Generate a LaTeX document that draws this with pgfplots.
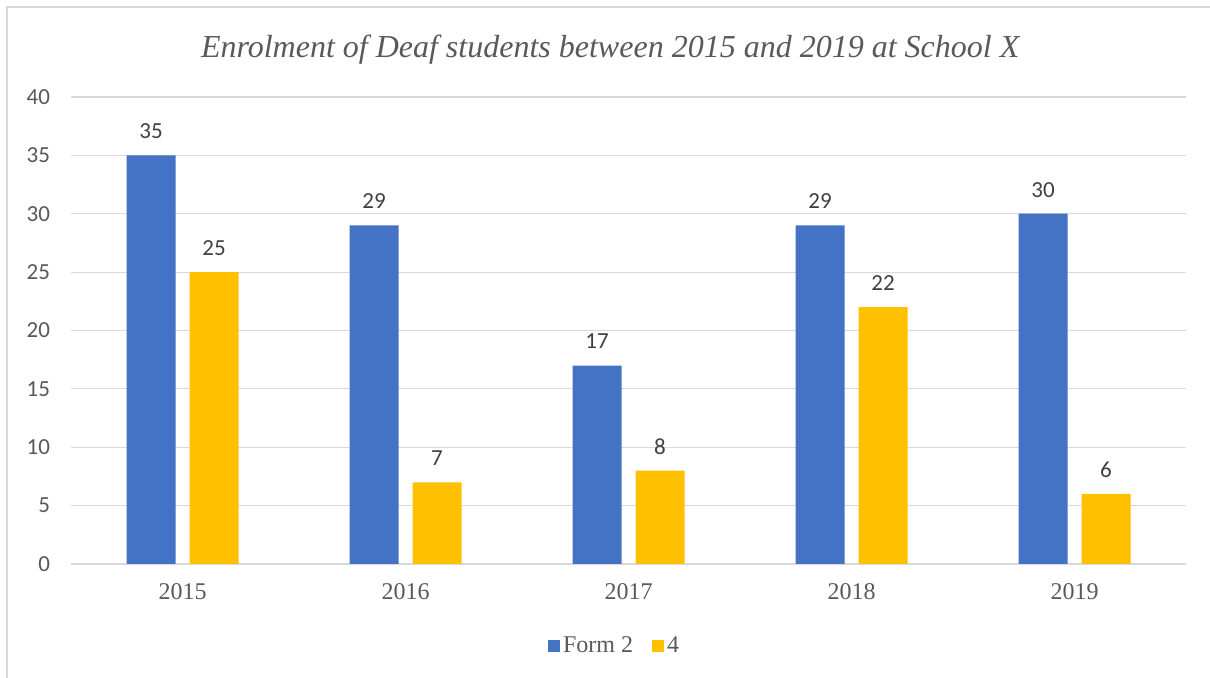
\documentclass[border=0pt]{standalone}
\usepackage{pgfplots}
\pgfplotsset{compat=1.18}
\usepackage{fontspec}
\setmainfont{Liberation Serif}
\newfontfamily\carlito{Carlito}
\definecolor{barblue}{HTML}{4472C4}
\definecolor{bargold}{HTML}{FFC000}
\definecolor{txtgray}{HTML}{595959}
\definecolor{lblgray}{HTML}{404040}
\definecolor{gridgray}{HTML}{D9D9D9}
\begin{document}
\begin{tikzpicture}
\path[use as bounding box] (0,0) rectangle (605pt,339pt);
\draw[gridgray, line width=0.6pt] (3.5pt,0) -- (3.5pt,335.5pt) -- (605pt,335.5pt);
\begin{axis}[
  at={(35.5pt,57pt)}, anchor=south west,
  scale only axis, width=557.5pt, height=233.5pt,
  ybar, bar width=24.5pt,
  xmin=-0.5, xmax=4.5, ymin=0, ymax=40,
  xtick={0,1,2,3,4}, xticklabels={2015,2016,2017,2018,2019},
  ytick={0,5,...,40},
  major tick length=0pt,
  axis line style={draw=none},
  ymajorgrids, major grid style={gridgray, line width=0.6pt},
  /pgf/number format/assume math mode=true,
  yticklabel style={font=\carlito\fontsize{11.5}{13}\selectfont, text=txtgray, anchor=east, xshift=-7pt},
  xticklabel style={font=\fontsize{12}{14}\selectfont, text=txtgray, anchor=base, yshift=-18pt},
  title={\textit{Enrolment of Deaf students between 2015 and 2019 at School X}},
  title style={font=\fontsize{16}{19}\selectfont, text=txtgray, at={(0.484,1.107)}, anchor=center, yshift=-7.5pt},
  nodes near coords,
  every node near coord/.append style={font=\carlito\fontsize{11.5}{13}\selectfont, text=lblgray, anchor=center, yshift=12pt},
  legend image code/.code={\fill[#1] (0pt,-3pt) rectangle (6pt,3pt);},
  legend style={draw=none, fill=none, at={(0.488,-0.175)}, anchor=center, legend columns=-1,
    font=\fontsize{12}{14}\selectfont, text=txtgray,
    /tikz/every even column/.append style={column sep=8pt},
    nodes={inner sep=1.5pt}},
]
\addplot[fill=barblue, draw=none, bar shift=-15.75pt] coordinates {(0,35) (1,29) (2,17) (3,29) (4,30)};
\addplot[fill=bargold, draw=none, bar shift=15.75pt] coordinates {(0,25) (1,7) (2,8) (3,22) (4,6)};
\legend{Form 2, 4}
\end{axis}
\end{tikzpicture}
\end{document}
